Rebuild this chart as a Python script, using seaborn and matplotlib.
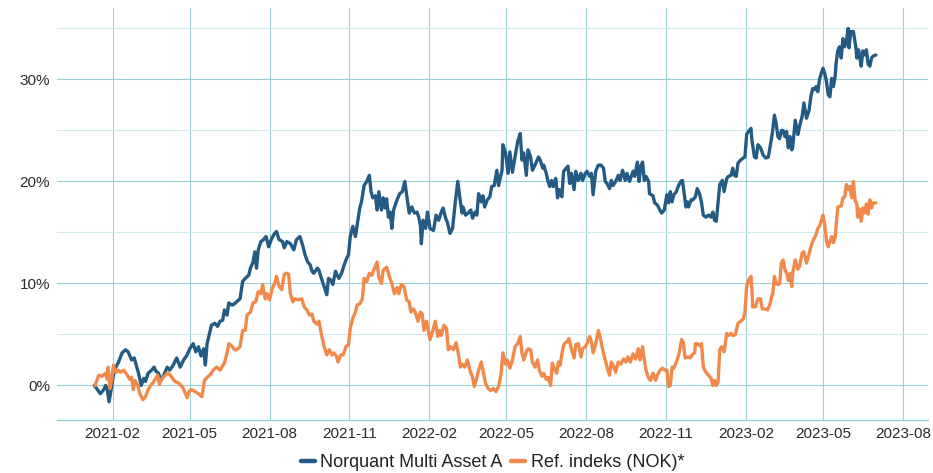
import matplotlib
matplotlib.use("Agg")
import numpy as np
import pandas as pd
import matplotlib.pyplot as plt
import matplotlib.dates as mdates
from matplotlib.ticker import MultipleLocator, FuncFormatter
import seaborn as sns

# Cumulative return (%), x as days since 2021-01-01
START = pd.Timestamp("2021-01-01")
FUND_NAME = "Norquant Multi Asset A"
REF_NAME = "Ref. indeks (NOK)*"

fund_days = [
    10, 17, 21, 23, 25, 27, 30, 33, 38, 42,
    46, 49, 53, 56, 59, 61, 64, 67, 69, 72,
    76, 79, 81, 84, 87, 90, 94, 97, 101, 105,
    109, 113, 117, 120, 124, 127, 130, 133, 136, 138,
    140, 142, 145, 149, 152, 155, 158, 160, 163, 165,
    168, 170, 174, 178, 181, 184, 188, 190, 193, 195,
    197, 199, 202, 205, 208, 211, 214, 217, 220, 223,
    227, 229, 232, 236, 240, 243, 247, 250, 253, 256,
    259, 261, 263, 267, 269, 271, 273, 276, 278, 280,
    283, 285, 288, 290, 292, 295, 298, 301, 303, 305,
    308, 311, 313, 316, 318, 321, 324, 327, 329, 331,
    334, 336, 338, 341, 343, 345, 347, 349, 351, 353,
    355, 359, 362, 365, 368, 370, 373, 376, 379, 382,
    384, 386, 387, 389, 392, 394, 397, 401, 404, 407,
    410, 412, 415, 417, 420, 423, 426, 429, 432, 434,
    435, 438, 441, 444, 446, 449, 451, 453, 456, 458,
    460, 463, 466, 468, 471, 474, 476, 480, 481, 484,
    487, 489, 492, 495, 498, 501, 503, 505, 508, 510,
    513, 515, 518, 522, 524, 527, 528, 531, 533, 535,
    537, 539, 542, 544, 546, 549, 551, 554, 556, 558,
    560, 563, 565, 568, 571, 573, 576, 578, 581, 583,
    585, 588, 591, 594, 597, 599, 601, 604, 606, 608,
    611, 614, 616, 619, 622, 624, 627, 631, 633, 636,
    638, 640, 642, 644, 646, 649, 650, 654, 656, 659,
    662, 664, 667, 670, 672, 674, 676, 678, 681, 683,
    686, 688, 690, 692, 694, 695, 698, 700, 703, 705,
    708, 710, 712, 715, 718, 721, 723, 725, 727, 729,
    731, 734, 736, 739, 741, 744, 746, 748, 750, 752,
    755, 758, 760, 762, 764, 767, 768, 771, 773, 775,
    778, 781, 784, 787, 790, 792, 794, 796, 798, 800,
    802, 804, 806, 808, 810, 812, 814, 815, 818, 821,
    823, 826, 828, 831, 834, 836, 838, 840, 842, 844,
    846, 848, 850, 852, 854, 856, 858, 860, 862, 864,
    865, 867, 869, 871, 873, 875, 877, 879, 880, 882,
    884, 885, 888, 889, 891, 892, 894, 896, 898, 900,
    902, 904, 906, 908, 911,
]
fund_values = [
    0.0, -0.8, -0.4, 0.0, -0.4, -1.6, -0.1, 1.5, 2.3, 3.2,
    3.5, 3.3, 2.5, 2.7, 1.8, 1.2, 0.0, 0.7, 0.4, 1.2,
    1.5, 1.8, 1.4, 1.2, 0.5, 1.0, 1.8, 1.5, 2.0, 2.7,
    1.8, 2.5, 3.0, 3.6, 4.1, 3.3, 3.8, 2.9, 3.6, 2.0,
    4.1, 4.8, 5.9, 6.1, 5.8, 6.3, 6.4, 7.4, 6.9, 8.1,
    7.9, 7.9, 8.2, 8.5, 10.2, 10.5, 10.8, 11.5, 12.1, 13.1,
    11.5, 13.3, 14.1, 14.3, 14.6, 13.6, 14.3, 14.8, 15.1, 14.3,
    14.1, 13.5, 14.1, 13.9, 13.3, 14.3, 14.6, 13.8, 12.8, 12.1,
    11.8, 11.2, 11.0, 11.5, 11.3, 10.7, 10.2, 9.4, 8.9, 10.5,
    10.3, 9.9, 11.2, 10.8, 10.5, 11.0, 11.8, 12.5, 12.8, 14.6,
    15.6, 14.6, 15.7, 17.4, 18.0, 19.6, 20.0, 20.6, 19.0, 18.4,
    18.6, 17.2, 19.0, 17.2, 18.4, 17.4, 18.3, 16.5, 17.0, 15.4,
    17.2, 18.2, 18.8, 19.0, 20.0, 18.7, 16.9, 17.5, 16.9, 17.0,
    16.5, 15.6, 13.9, 16.2, 15.4, 17.0, 15.4, 15.2, 16.7, 16.2,
    17.0, 17.4, 16.4, 16.0, 14.9, 15.4, 17.9, 20.0, 18.0, 16.9,
    17.5, 16.7, 16.9, 17.2, 16.4, 17.0, 16.7, 18.8, 18.0, 18.6,
    17.5, 18.2, 18.5, 19.5, 19.6, 21.1, 19.6, 21.1, 23.6, 22.8,
    20.8, 22.9, 20.9, 22.4, 23.9, 24.7, 22.1, 22.8, 20.6, 23.1,
    22.4, 21.1, 21.6, 22.4, 22.1, 21.3, 21.6, 20.8, 20.0, 19.5,
    20.1, 19.5, 20.3, 18.4, 19.2, 18.5, 21.0, 21.3, 21.5, 19.8,
    20.8, 19.2, 21.0, 20.1, 20.8, 20.1, 20.8, 21.0, 20.5, 20.8,
    18.7, 21.0, 21.6, 21.6, 21.3, 20.0, 19.8, 19.3, 20.1, 19.6,
    20.0, 20.6, 20.1, 21.1, 20.1, 20.8, 20.0, 21.0, 20.5, 21.9,
    20.0, 21.5, 21.9, 20.1, 20.5, 20.0, 18.8, 18.6, 17.9, 17.7,
    17.2, 16.9, 17.2, 18.7, 17.9, 19.0, 18.0, 18.7, 19.0, 19.5,
    20.0, 20.1, 18.8, 17.5, 18.0, 17.5, 18.2, 18.2, 18.5, 19.3,
    18.7, 17.9, 16.7, 16.5, 16.7, 16.5, 17.0, 16.2, 16.1, 17.9,
    19.7, 20.1, 19.0, 20.3, 20.5, 20.6, 21.3, 20.6, 20.5, 21.8,
    22.1, 22.3, 22.4, 24.6, 24.9, 25.2, 24.1, 22.4, 22.3, 23.6,
    23.3, 22.6, 22.3, 22.4, 23.9, 25.0, 26.5, 25.7, 24.4, 24.2,
    25.0, 25.0, 24.4, 24.9, 23.3, 24.4, 23.1, 23.3, 26.0, 24.6,
    25.4, 26.4, 27.7, 26.2, 27.0, 28.3, 29.1, 29.0, 29.3, 28.8,
    30.0, 30.6, 31.1, 30.6, 29.8, 28.5, 28.3, 30.1, 29.3, 30.3,
    31.5, 32.8, 33.2, 32.1, 34.0, 33.2, 33.8, 35.0, 33.1, 34.7,
    34.5, 34.7, 33.1, 32.1, 32.9, 32.4, 31.3, 32.8, 32.4, 32.9,
    31.5, 31.3, 32.1, 32.3, 32.4,
]

ref_days = [
    11, 15, 19, 23, 25, 26, 28, 30, 32, 35,
    38, 40, 44, 48, 51, 53, 55, 57, 60, 63,
    66, 69, 72, 75, 78, 80, 83, 85, 88, 92,
    94, 97, 101, 103, 106, 109, 112, 115, 117, 119,
    122, 126, 130, 134, 137, 140, 144, 147, 151, 155,
    157, 160, 163, 165, 168, 172, 174, 178, 181, 184,
    186, 190, 193, 196, 199, 202, 204, 207, 209, 212,
    215, 218, 220, 223, 226, 229, 232, 234, 236, 239,
    241, 245, 249, 252, 255, 258, 261, 263, 267, 269,
    272, 275, 278, 281, 284, 286, 289, 291, 294, 297,
    300, 303, 305, 308, 311, 313, 316, 319, 321, 324,
    327, 330, 332, 336, 338, 341, 343, 347, 350, 353,
    356, 359, 361, 364, 367, 370, 373, 375, 378, 380,
    383, 386, 388, 390, 393, 397, 400, 403, 406, 408,
    410, 413, 416, 418, 421, 424, 427, 429, 432, 434,
    437, 440, 443, 446, 448, 451, 453, 456, 458, 461,
    464, 467, 470, 473, 476, 479, 481, 484, 486, 489,
    492, 495, 498, 501, 503, 505, 508, 510, 513, 515,
    518, 521, 523, 526, 528, 531, 533, 536, 538, 541,
    543, 545, 547, 550, 552, 555, 557, 560, 563, 565,
    568, 571, 573, 576, 578, 581, 583, 585, 588, 591,
    594, 596, 599, 601, 604, 606, 609, 611, 614, 617,
    620, 623, 625, 628, 631, 634, 637, 639, 642, 644,
    646, 649, 651, 654, 657, 659, 662, 665, 668, 670,
    672, 674, 676, 678, 681, 684, 687, 689, 691, 694,
    697, 699, 702, 703, 705, 708, 710, 712, 715, 718,
    721, 723, 725, 727, 729, 731, 733, 736, 739, 741,
    744, 746, 749, 752, 755, 758, 760, 762, 764, 767,
    768, 769, 772, 775, 778, 780, 783, 786, 789, 791,
    792, 794, 796, 798, 800, 802, 804, 806, 808, 810,
    812, 814, 815, 818, 821, 823, 826, 828, 831, 833,
    836, 838, 842, 844, 846, 850, 852, 854, 856, 860,
    862, 864, 867, 871, 873, 875, 877, 879, 881, 883,
    885, 887, 889, 890, 892, 894, 896, 898, 900, 902,
    904, 906, 908, 911,
]
ref_values = [
    0.0, 1.0, 0.9, 1.2, 0.6, 1.8, -0.3, 0.5, 2.0, 1.3,
    1.5, 1.3, 1.5, 1.0, 0.6, 0.8, -0.4, 0.5, 0.0, -0.9,
    -1.4, -1.1, -0.4, 0.0, 0.3, 0.6, 1.0, 0.1, 0.7, 1.0,
    1.2, 1.1, 0.6, 0.4, 0.3, 0.1, -0.2, -0.8, -1.2, -0.6,
    -0.4, -0.6, -0.8, -1.1, 0.5, 0.8, 1.1, 1.5, 1.8, 1.5,
    1.8, 2.2, 3.2, 4.1, 3.9, 3.5, 3.5, 3.8, 5.4, 5.4,
    6.9, 7.2, 8.1, 8.2, 9.2, 9.0, 9.9, 8.5, 9.0, 8.4,
    9.5, 10.0, 10.7, 9.7, 9.4, 10.9, 11.0, 10.9, 9.0, 8.2,
    8.5, 8.4, 8.5, 7.7, 7.4, 6.9, 7.0, 6.3, 6.0, 6.3,
    4.9, 3.8, 3.0, 3.5, 3.0, 3.2, 2.9, 2.3, 3.0, 3.0,
    3.8, 4.0, 5.6, 6.6, 7.2, 7.9, 8.0, 8.5, 10.5, 10.2,
    11.0, 10.8, 11.3, 12.1, 10.6, 10.0, 11.3, 11.6, 10.7, 10.0,
    9.0, 9.6, 9.0, 9.9, 9.7, 8.4, 8.2, 7.2, 7.5, 7.2,
    6.3, 7.2, 7.0, 5.4, 6.3, 4.5, 5.3, 6.3, 4.8, 5.4,
    4.9, 5.9, 5.6, 3.5, 3.8, 3.5, 4.2, 3.4, 1.8, 2.1,
    1.8, 2.5, 1.5, 0.8, -0.1, 0.8, 1.5, 2.3, 1.5, 0.2,
    -0.3, -0.5, -0.3, -0.6, -0.1, 1.2, 3.2, 2.1, 2.5, 1.7,
    2.5, 3.8, 4.1, 4.8, 3.2, 2.5, 3.3, 3.6, 3.5, 2.3,
    1.8, 2.5, 1.5, 0.9, 1.2, 0.6, 0.8, 0.0, 2.2, 1.5,
    1.2, 2.3, 2.0, 3.6, 4.1, 4.3, 4.6, 3.6, 2.7, 4.0,
    4.1, 2.8, 3.6, 3.8, 4.1, 4.8, 4.3, 3.2, 4.1, 5.4,
    4.4, 3.5, 2.5, 1.8, 1.0, 2.3, 1.8, 1.3, 2.3, 2.1,
    2.6, 2.3, 2.8, 2.3, 3.1, 2.6, 3.6, 2.5, 3.8, 2.5,
    1.5, 0.7, 0.5, 1.2, 0.5, 1.0, 1.5, 1.7, 1.5, 1.5,
    -0.1, 0.0, 1.8, 1.7, 2.3, 3.1, 4.5, 4.2, 2.7, 2.8,
    2.7, 3.0, 3.2, 4.1, 4.1, 3.9, 4.1, 1.8, 1.3, 1.0,
    0.7, 0.0, 0.5, 0.0, 0.3, 3.5, 3.8, 3.3, 5.1, 4.9,
    5.1, 4.9, 5.0, 6.1, 6.3, 6.5, 7.2, 9.7, 10.3, 10.7,
    9.4, 7.7, 7.7, 8.5, 8.5, 7.5, 7.5, 7.4, 8.0, 8.8,
    8.9, 10.7, 10.0, 9.9, 10.0, 12.0, 12.3, 11.4, 11.0, 10.3,
    11.0, 9.7, 11.0, 12.3, 11.4, 11.7, 13.0, 13.1, 12.0, 12.6,
    13.6, 14.1, 14.8, 15.4, 15.6, 16.7, 15.8, 14.2, 13.6, 14.6,
    14.0, 14.5, 17.5, 17.6, 18.4, 18.5, 19.7, 19.2, 19.5, 18.4,
    20.0, 18.1, 17.8, 16.5, 17.3, 16.1, 17.4, 16.9, 17.8, 16.8,
    18.2, 17.4, 17.9, 17.9,
]

BLUE = "#245B84"
ORANGE = "#F0894A"
GRID_MAJOR = "#9CCFD3"
GRID_MINOR = "#D0EBED"
TEXT = "#2B2B2B"


def to_frame(days, values, name):
    return pd.DataFrame({
        "date": START + pd.to_timedelta(days, unit="D"),
        "value": values,
        "series": name,
    })


df = pd.concat([
    to_frame(fund_days, fund_values, FUND_NAME),
    to_frame(ref_days, ref_values, REF_NAME),
], ignore_index=True)

sns.set_theme(style="white")
plt.rcParams["font.family"] = ["Liberation Sans", "DejaVu Sans"]

fig = plt.figure(figsize=(9.33, 4.73), dpi=100)
ax = fig.add_axes([0.0611, 0.1121, 0.9335, 0.8709])

sns.lineplot(data=df, x="date", y="value", hue="series",
             palette={FUND_NAME: BLUE, REF_NAME: ORANGE},
             estimator=None, linewidth=2.4, ax=ax)

ax.set_xlim(START + pd.Timedelta(days=-33), START + pd.Timedelta(days=971))
ax.set_ylim(-3.38, 37.0)

# grid: darker lines every 10 %, pale ones in between
ax.yaxis.set_major_locator(MultipleLocator(10))
ax.yaxis.set_minor_locator(MultipleLocator(5))
ax.yaxis.set_major_formatter(FuncFormatter(lambda v, _: f"{v:.0f}%"))
ax.xaxis.set_major_locator(mdates.MonthLocator(bymonth=[2, 5, 8, 11]))
ax.xaxis.set_major_formatter(mdates.DateFormatter("%Y-%m"))
ax.grid(which="major", axis="x", color=GRID_MAJOR, linewidth=0.8)
ax.grid(which="major", axis="y", color=GRID_MAJOR, linewidth=0.8)
ax.grid(which="minor", axis="y", color=GRID_MINOR, linewidth=0.8)
ax.set_axisbelow(True)

for side in ["left", "top", "right"]:
    ax.spines[side].set_visible(False)
ax.spines["bottom"].set_color(GRID_MAJOR)
ax.spines["bottom"].set_linewidth(1.0)

ax.tick_params(axis="both", which="both", length=0, colors=TEXT, labelsize=11)
ax.tick_params(axis="x", pad=5)
ax.tick_params(axis="y", pad=5)
ax.set_xlabel("")
ax.set_ylabel("")

handles, labels = ax.get_legend_handles_labels()
for h in handles:
    h.set_linewidth(3.2)
ax.get_legend().remove()
ax.legend(handles, labels, loc="center", bbox_to_anchor=(0.5, -0.103),
          ncol=2, frameon=False, fontsize=13, handlelength=0.8,
          handletextpad=0.3, columnspacing=0.45, borderpad=0.0,
          labelcolor="#222222")

fig.savefig("out.png", dpi=100)
